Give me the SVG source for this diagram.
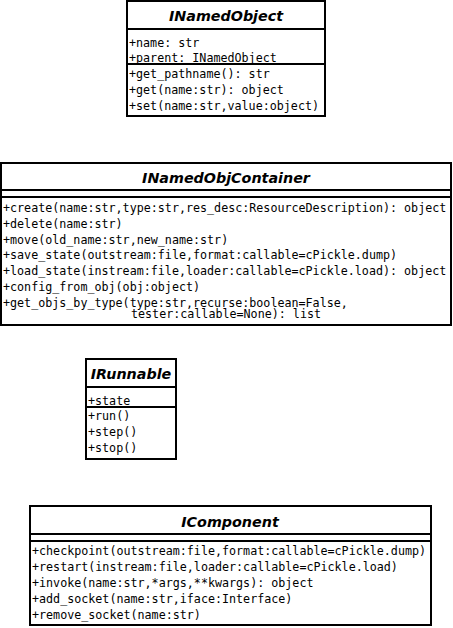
<svg xmlns="http://www.w3.org/2000/svg" width="453" height="628" viewBox="0 0 453 628">
<style>
.box{fill:#fff;stroke:#000;stroke-width:2}
.ln{stroke:#000;stroke-width:2;fill:none}
.t{font-family:"DejaVu Sans",sans-serif;font-weight:bold;font-style:italic;font-size:14.3px;text-anchor:middle}
.m{font-family:"DejaVu Sans Mono",monospace;font-size:11.7px}
.u{text-decoration:underline}
</style>
<rect width="453" height="628" fill="#fff"/>
<g id="INamedObject">
<rect class="box" x="127" y="1" width="198" height="115"/>
<line class="ln" x1="127" y1="29" x2="325" y2="29"/>
<line class="ln" x1="127" y1="64" x2="325" y2="64"/>
<text class="t" x="226" y="21">INamedObject</text>
<text class="m" x="129" y="47">+name: str</text>
<text class="m u" x="129" y="62">+parent: INamedObject</text>
<text class="m" x="129" y="78">+get_pathname(): str</text>
<text class="m" x="129" y="94">+get(name:str): object</text>
<text class="m" x="129" y="110">+set(name:str,value:object)</text>
</g>
<g id="INamedObjContainer">
<rect class="box" x="1" y="163" width="450" height="162"/>
<line class="ln" x1="1" y1="190" x2="451" y2="190"/>
<line class="ln" x1="1" y1="197" x2="451" y2="197"/>
<text class="t" x="226" y="183">INamedObjContainer</text>
<text class="m" x="3" y="212">+create(name:str,type:str,res_desc:ResourceDescription): object</text>
<text class="m" x="3" y="228">+delete(name:str)</text>
<text class="m" x="3" y="244">+move(old_name:str,new_name:str)</text>
<text class="m" x="3" y="259">+save_state(outstream:file,format:callable=cPickle.dump)</text>
<text class="m" x="3" y="275">+load_state(instream:file,loader:callable=cPickle.load): object</text>
<text class="m" x="3" y="291">+config_from_obj(obj:object)</text>
<text class="m" x="3" y="307">+get_objs_by_type(type:str,recurse:boolean=False,</text>
<text class="m" x="131" y="318">tester:callable=None): list</text>
</g>
<g id="IRunnable">
<rect class="box" x="86" y="359" width="90" height="100"/>
<line class="ln" x1="86" y1="387" x2="176" y2="387"/>
<line class="ln" x1="86" y1="407" x2="176" y2="407"/>
<text class="t" x="131" y="379">IRunnable</text>
<text class="m u" x="88" y="405">+state</text>
<text class="m" x="88" y="420">+run()</text>
<text class="m" x="88" y="436">+step()</text>
<text class="m" x="88" y="452">+stop()</text>
</g>
<g id="IComponent">
<rect class="box" x="30" y="506" width="401" height="119"/>
<line class="ln" x1="30" y1="534" x2="431" y2="534"/>
<line class="ln" x1="30" y1="541" x2="431" y2="541"/>
<text class="t" x="230" y="527">IComponent</text>
<text class="m" x="32" y="555">+checkpoint(outstream:file,format:callable=cPickle.dump)</text>
<text class="m" x="32" y="571">+restart(instream:file,loader:callable=cPickle.load)</text>
<text class="m" x="32" y="587">+invoke(name:str,*args,**kwargs): object</text>
<text class="m" x="32" y="603">+add_socket(name:str,iface:Interface)</text>
<text class="m" x="32" y="619">+remove_socket(name:str)</text>
</g>
<g id="connectors"></g>
</svg>
